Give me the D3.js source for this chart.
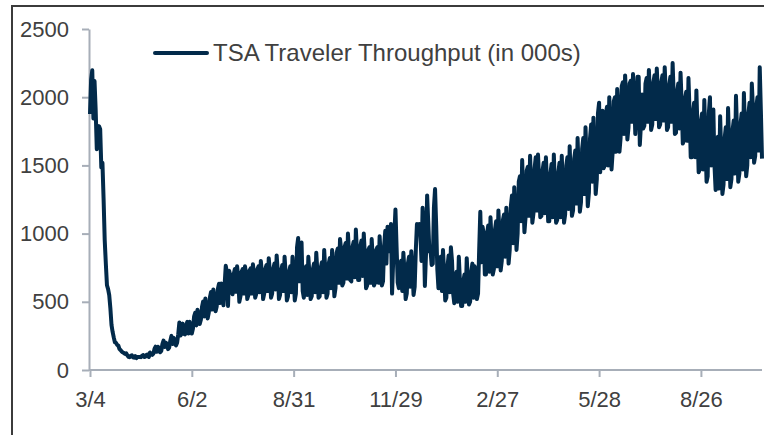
<!DOCTYPE html>
<html>
<head>
<meta charset="utf-8">
<script src="https://d3js.org/d3.v7.min.js"></script>
<style>
  body { margin: 0; background: #fff; }
  svg { display: block; }
</style>
</head>
<body>
<div id="chart"></div>
<script>
// Daily data, first value is 3/4/2020, one value per day (thousands)
var startDate = "2020-03-04";
var endDate = "2021-10-19";
var seriesName = "TSA Traveler Throughput (in 000s)";
var yTicks = [0, 500, 1000, 1500, 2000, 2500];
var tickDates = ["2020-03-04", "2020-06-02", "2020-08-31", "2020-11-29", "2021-02-27", "2021-05-28", "2021-08-26"];

// one row per week, Wed..Tue
var throughput = [
  1877, 2130, 2198, 1844, 2119, 1909, 1618,
  1703, 1788, 1766, 1485, 1519, 1257, 953,
  779, 621, 593, 549, 454, 331, 279,
  239, 204, 199, 184, 180, 155, 146,
  136, 129, 124, 118, 122, 108, 97,
  94, 104, 108, 93, 90, 102, 87,
  95, 95, 96, 94, 105, 109, 95,
  98, 111, 114, 95, 128, 119, 111,
  120, 154, 171, 134, 170, 163, 130,
  140, 190, 216, 169, 200, 191, 153,
  165, 215, 250, 190, 234, 219, 180,
  200, 262, 348, 253, 267, 340, 264,
  261, 321, 353, 268, 353, 314, 267,
  304, 391, 420, 327, 441, 400, 338,
  368, 463, 502, 393, 525, 455, 378,
  420, 533, 572, 443, 590, 518, 431,
  466, 592, 632, 491, 634, 572, 474,
  626, 764, 718, 470, 728, 694, 575,
  555, 700, 740, 573, 760, 682, 500,
  540, 720, 740, 560, 760, 700, 520,
  550, 730, 745, 560, 775, 700, 530,
  560, 740, 760, 570, 800, 706, 520,
  560, 740, 770, 580, 820, 720, 530,
  560, 740, 780, 590, 840, 720, 520,
  550, 730, 770, 580, 831, 700, 510,
  540, 720, 760, 570, 830, 690, 510,
  560, 900, 968, 650, 860, 935, 580,
  530, 720, 760, 550, 830, 700, 520,
  540, 740, 780, 570, 860, 720, 530,
  540, 750, 790, 570, 880, 730, 530,
  560, 780, 820, 600, 880, 740, 540,
  600, 860, 890, 640, 960, 880, 620,
  640, 900, 930, 670, 1000, 850, 660,
  650, 900, 940, 680, 1030, 860, 660,
  660, 910, 950, 690, 1000, 830, 600,
  620, 880, 900, 640, 960, 810, 620,
  640, 880, 900, 640, 980, 830, 620,
  650, 910, 1020, 780, 1050, 910, 870,
  1070, 560, 800, 990, 1177, 900, 640,
  600, 770, 800, 580, 860, 720, 520,
  560, 780, 830, 610, 870, 740, 550,
  610, 880, 1070, 1010, 1070, 1000, 800,
  1190, 1030, 616, 850, 1280, 1080, 870,
  880, 770, 780, 1190, 1327, 1060, 740,
  600, 780, 830, 580, 880, 720, 510,
  530, 760, 840, 570, 900, 800, 560,
  490, 680, 720, 500, 830, 650, 470,
  470, 650, 700, 500, 820, 660, 480,
  500, 720, 780, 530, 760, 720, 520,
  560, 880, 1160, 790, 1050, 1000, 700,
  700, 1000, 1060, 720, 1120, 940, 700,
  740, 1030, 1090, 760, 1170, 980, 730,
  800, 1100, 1140, 830, 1190, 1040, 780,
  880, 1200, 1280, 930, 1340, 1120, 880,
  1000, 1380, 1420, 1090, 1540, 1270, 1010,
  1120, 1460, 1490, 1130, 1570, 1330, 1080,
  1150, 1480, 1560, 1170, 1580, 1400, 1120,
  1130, 1460, 1520, 1150, 1560, 1360, 1090,
  1090, 1440, 1510, 1120, 1580, 1330, 1080,
  1100, 1450, 1520, 1120, 1570, 1330, 1080,
  1140, 1500, 1560, 1180, 1640, 1380, 1130,
  1170, 1550, 1610, 1220, 1700, 1440, 1160,
  1230, 1620, 1700, 1290, 1780, 1510, 1200,
  1300, 1700, 1800, 1380, 1850, 1590, 1290,
  1400, 1880, 1960, 1450, 1650, 1900, 1480,
  1500, 1880, 1930, 1500, 2000, 1780, 1470,
  1600, 1970, 2000, 1600, 2060, 1890, 1600,
  1700, 2080, 2110, 1730, 2160, 1970, 1690,
  1780, 2100, 2120, 1820, 2170, 2000, 1730,
  1880, 2150, 2150, 1650, 1800, 2020, 1770,
  1790, 2100, 2140, 1820, 2200, 2000, 1760,
  1800, 2110, 2160, 1840, 2210, 2030, 1780,
  1800, 2110, 2160, 1830, 2220, 2020, 1760,
  1780, 2090, 2150, 1820, 2250, 2000, 1730,
  1740, 2040, 2100, 1770, 2180, 1950, 1660,
  1680, 1990, 2040, 1680, 2140, 1890, 1560,
  1560, 1880, 1960, 1560, 2050, 1760, 1450,
  1470, 1820, 1880, 1470, 1980, 1680, 1380,
  1420, 1880, 2000, 1500, 1700, 1910, 1500,
  1320, 1610, 1710, 1330, 1860, 1580, 1290,
  1360, 1700, 1780, 1400, 1920, 1660, 1340,
  1400, 1760, 1830, 1440, 2010, 1730, 1380,
  1440, 1800, 1880, 1470, 2030, 1760, 1420,
  1500, 1880, 1960, 1560, 2100, 1920, 1520,
  1570, 1930, 2000, 1610, 2220, 1900, 1550
];

var parseDate = d3.timeParse("%Y-%m-%d");
var data = throughput.map(function(v, i) {
  return {date: d3.timeDay.offset(parseDate(startDate), i), value: v};
});

var svg = d3.select("#chart")
.append("svg")
.attr("width", 764)
.attr("height", 435);

// outer frame (left + top only, rest is cropped)
svg.append("path")
.attr("d", "M12,435V6H764")
.attr("fill", "none")
.attr("stroke", "#3b3b3b")
.attr("stroke-width", 2);

var x = d3.scaleTime()
.domain([parseDate(startDate), parseDate(endDate)])
.range([90, 762]);

var y = d3.scaleLinear()
.domain([0, 2500])
.range([370, 29]);

var axisColor = "#a7aeb8";
var textColor = "#404040";
var font = "'Liberation Sans', Arial, sans-serif";

var yAxis = svg.append("g")
.attr("transform", "translate(89,0)")
.call(d3.axisLeft(y).tickValues(yTicks).tickFormat(d3.format("d"))
  .tickSize(7).tickSizeOuter(0).tickPadding(13));

var xAxis = svg.append("g")
.attr("transform", "translate(0,370)")
.call(d3.axisBottom(x)
  .tickValues(tickDates.map(parseDate))
  .tickFormat(d3.timeFormat("%-m/%-d"))
  .tickSize(7).tickSizeOuter(0).tickPadding(14));

[yAxis, xAxis].forEach(function(g) {
  g.select(".domain").attr("stroke", axisColor).attr("stroke-width", 2);
  g.selectAll(".tick line").attr("stroke", axisColor).attr("stroke-width", 2);
  g.selectAll(".tick text")
  .attr("fill", textColor)
  .style("font-family", font)
  .style("font-size", "22px");
});
xAxis.select(".domain").attr("d", "M89,0H762");

// the series
var line = d3.line()
.x(function(d) { return x(d.date); })
.y(function(d) { return y(d.value); });

svg.append("path")
.datum(data)
.attr("fill", "none")
.attr("stroke", "#022a4a")
.attr("stroke-width", 4)
.attr("stroke-linejoin", "round")
.attr("d", line);

// legend
svg.append("line")
.attr("x1", 155).attr("x2", 207)
.attr("y1", 53).attr("y2", 53)
.attr("stroke", "#022a4a")
.attr("stroke-width", 4)
.attr("stroke-linecap", "round");

svg.append("text")
.attr("x", 213)
.attr("y", 53)
.attr("dy", "0.35em")
.attr("fill", textColor)
.style("font-family", font)
.style("font-size", "24px")
.text(seriesName);
</script>
</body>
</html>
